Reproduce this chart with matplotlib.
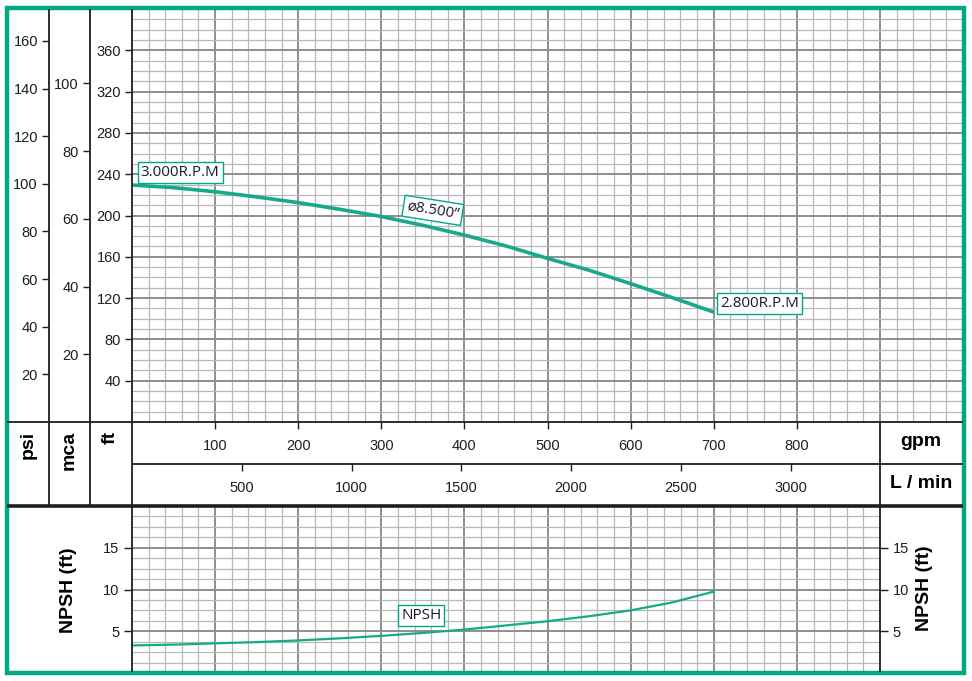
import numpy as np
import matplotlib
matplotlib.use("Agg")
import matplotlib.pyplot as plt
from matplotlib.patches import Rectangle

# figure size in pixels
W, H = 972, 681
TEAL = "#00a886"
CURVE = "#16a98a"
MINOR = "#b8b8b8"
MAJOR = "#8e8e8e"
DARK = "#1e1e1e"

flow_gpm = [0, 50, 100, 150, 200, 250, 300, 350, 400, 450, 500, 550, 600, 650, 700]
head_ft = [229.5, 227, 223, 218, 212.5, 206, 199, 190.5, 181, 170.5, 158.5, 147, 134, 120.5, 106.5]
npsh_ft = [3.3, 3.4, 3.55, 3.7, 3.9, 4.15, 4.45, 4.8, 5.2, 5.7, 6.2, 6.8, 7.5, 8.45, 9.75]

gpm_ticks = [100, 200, 300, 400, 500, 600, 700, 800]
lpm_ticks = [500, 1000, 1500, 2000, 2500, 3000]
ft_ticks = [40, 80, 120, 160, 200, 240, 280, 320, 360]
psi_ticks = [20, 40, 60, 80, 100, 120, 140, 160]
mca_ticks = [20, 40, 60, 80, 100]
npsh_ticks = [5, 10, 15]

FT_TO_PSI = 0.4335
FT_TO_M = 0.3048
GPM_TO_LPM = 3.785
HEAD_MAX, GPM_MAX, NPSH_GPM_MAX, NPSH_MAX = 400, 1000, 900, 20


def box(l, t, r, b):
    return [l / W, 1 - b / H, (r - l) / W, (b - t) / H]


def grid(ax, xstep, xmajor, xmax, ystep, ymajor, ymax):
    for v in np.arange(xstep, xmax, xstep):
        major = abs(v / xmajor - round(v / xmajor)) < 1e-6
        ax.axvline(v, color=MAJOR if major else MINOR, lw=1.4 if major else 0.9, zorder=0)
    for v in np.arange(ystep, ymax, ystep):
        major = abs(v / ymajor - round(v / ymajor)) < 1e-6
        ax.axhline(v, color=MAJOR if major else MINOR, lw=1.4 if major else 0.9, zorder=0)


def tag(ax, x, y, s, rot=0):
    ax.text(x, y, s, fontsize=11, color="#1a1a2e", family=["Open Sans", "DejaVu Sans"],
            ha="center", va="center", rotation=rot, zorder=5,
            bbox=dict(boxstyle="square,pad=0.2", fc="white", ec=TEAL, lw=1))


plt.rcParams["font.family"] = ["Liberation Sans", "DejaVu Sans"]
fig = plt.figure(figsize=(W / 100, H / 100), dpi=100)

# ---- head curve panel ----
ax = fig.add_axes(box(132, 9, 963, 422))
ax.set_xlim(0, GPM_MAX)
ax.set_ylim(0, HEAD_MAX)
grid(ax, 20, 100, GPM_MAX, 10, 40, HEAD_MAX)
ax.plot(flow_gpm, head_ft, color=CURVE, lw=2.6, solid_capstyle="butt", zorder=3)
for s in ax.spines.values():
    s.set_visible(False)
ax.set_yticks(ft_ticks)
ax.set_xticks(gpm_ticks)
ax.tick_params(axis="y", direction="out", length=5, width=1, pad=3, labelsize=10.5, colors=DARK)
ax.tick_params(axis="x", direction="out", length=5, width=1, pad=7, labelsize=10.5, colors=DARK)
tag(ax, 58, 242, "3.000R.P.M")
tag(ax, 362, 205, "ø8.500”", rot=-9)
tag(ax, 755, 115, "2.800R.P.M")

# psi and mca scales
for left, top_max, ticks in [(49, HEAD_MAX * FT_TO_PSI, psi_ticks), (90, HEAD_MAX * FT_TO_M, mca_ticks)]:
    a = fig.add_axes(box(left, 9, left + 1, 422))
    a.set_frame_on(False)
    a.set_ylim(0, top_max)
    a.set_yticks(ticks)
    a.set_xticks([])
    a.tick_params(axis="y", direction="out", length=5, width=1, pad=3, labelsize=10.5, colors=DARK)

# L/min scale
al = fig.add_axes(box(132, 463, 963, 464))
al.set_frame_on(False)
al.set_xlim(0, GPM_MAX * GPM_TO_LPM)
al.set_xticks(lpm_ticks)
al.set_yticks([])
al.tick_params(axis="x", direction="out", length=5, width=1, pad=7, labelsize=10.5, colors=DARK)

# ---- NPSH panel ----
an = fig.add_axes(box(132, 506, 880, 673))
an.set_xlim(0, NPSH_GPM_MAX)
an.set_ylim(0, NPSH_MAX)
grid(an, 20, 100, NPSH_GPM_MAX, 1.25, 5, NPSH_MAX)
an.plot(flow_gpm, npsh_ft, color=CURVE, lw=1.6, zorder=3)
for s in an.spines.values():
    s.set_visible(False)
an.set_xticks([])
an.set_yticks(npsh_ticks)
an.tick_params(axis="y", direction="out", length=6, width=1, pad=3, labelsize=10.5, colors=DARK,
               left=True, right=True, labelleft=True, labelright=True)
tag(an, 348, 6.9, "NPSH")

# ---- frame, dividers and unit labels ----
ov = fig.add_axes([0, 0, 1, 1], zorder=10)
ov.set_xlim(0, W)
ov.set_ylim(H, 0)
ov.axis("off")
lines = [((49, 49), (9, 505)), ((90, 90), (9, 505)), ((132, 132), (9, 672)),
         ((7, 963), (422, 422)), ((132, 963), (464, 464)), ((880, 880), (422, 672))]
for xs, ys in lines:
    ov.plot(xs, ys, color=DARK, lw=1.3, solid_capstyle="butt")
ov.plot((7, 963), (505.5, 505.5), color=DARK, lw=2.6, solid_capstyle="butt")

bold = dict(fontweight="bold", fontsize=14, color="black")
ov.text(28, 431, "psi", rotation=90, ha="center", va="top", **bold)
ov.text(69, 431, "mca", rotation=90, ha="center", va="top", **bold)
ov.text(110, 431, "ft", rotation=90, ha="center", va="top", **bold)
ov.text(921, 441, "gpm", ha="center", va="center", **bold)
ov.text(921, 484, "L / min", ha="center", va="center", **bold)
ov.text(68, 590, "NPSH (ft)", rotation=90, ha="center", va="center", **bold)
ov.text(924, 588, "NPSH (ft)", rotation=90, ha="center", va="center", **bold)

ov.add_patch(Rectangle((6.5, 8), 957.5, 664.5, fill=False, ec=TEAL, lw=3.2))

fig.savefig("out.png", dpi=100)
